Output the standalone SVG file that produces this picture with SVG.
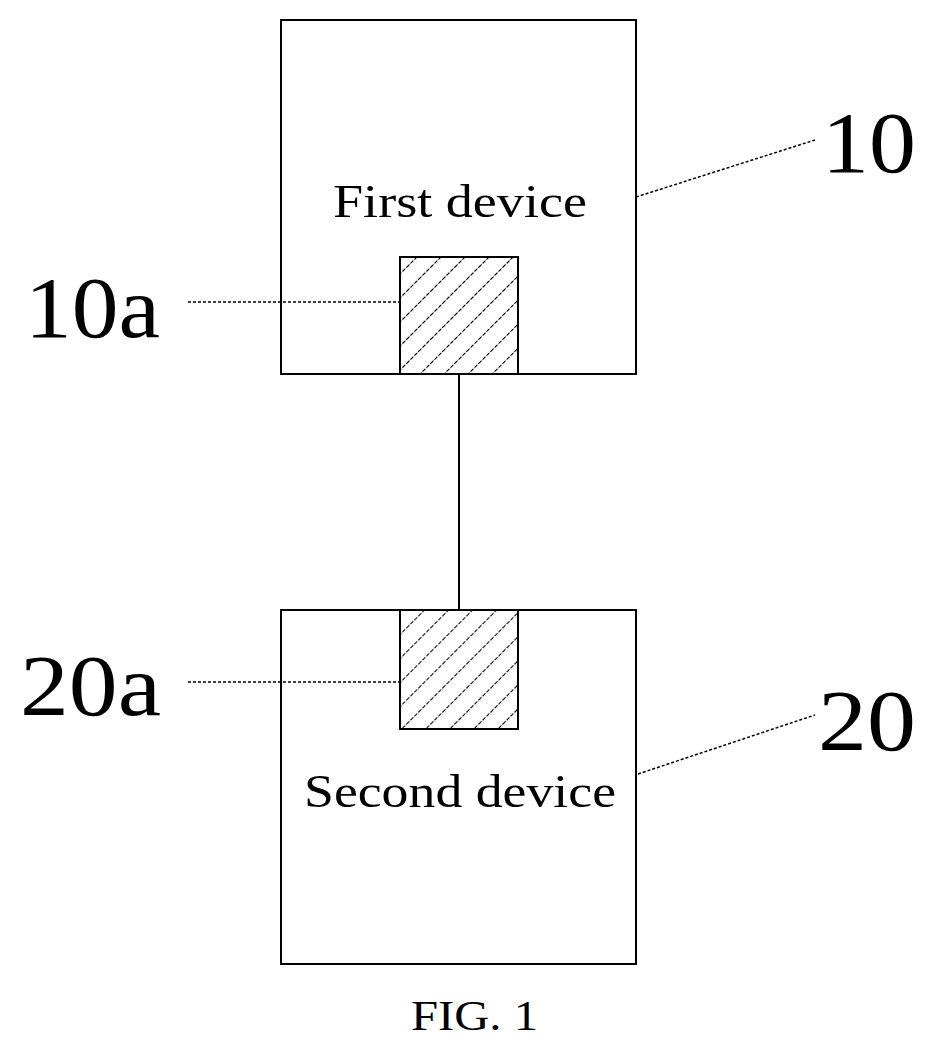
<svg xmlns="http://www.w3.org/2000/svg" width="935" height="1051" viewBox="0 0 935 1051">
<style>
.box{fill:#fff;stroke:#000;stroke-width:2}
.hb{fill:url(#hatch);stroke:#000;stroke-width:2}
.lead{stroke:#000;stroke-width:1.5;stroke-dasharray:3,2;fill:none}
.t{font-family:"Liberation Serif",serif;fill:#000}
</style>
<defs>
<pattern id="hatch" patternUnits="userSpaceOnUse" width="17" height="17" patternTransform="rotate(45)">
<rect width="17" height="17" fill="#fff"/>
<line x1="0" y1="0" x2="0" y2="17" stroke="#000" stroke-width="2.2" stroke-dasharray="4,1.5"/>
</pattern>
</defs>
<rect width="935" height="1051" fill="#fff"/>
<g id="node-10">
<rect class="box" x="281" y="20" width="355" height="354"/>
<text class="t" x="333" y="217" font-size="46" textLength="254" lengthAdjust="spacingAndGlyphs">First device</text>
</g>
<g id="node-10a"><rect class="hb" x="400" y="257" width="118" height="117"/></g>
<g id="node-20">
<rect class="box" x="281" y="610" width="355" height="354"/>
<text class="t" x="304" y="807" font-size="46" textLength="312" lengthAdjust="spacingAndGlyphs">Second device</text>
</g>
<g id="node-20a"><rect class="hb" x="400" y="610" width="118" height="119"/></g>
<g id="connectors">
<line x1="459" y1="374" x2="459" y2="610" stroke="#000" stroke-width="2"/>
<line class="lead" x1="636" y1="197" x2="815" y2="140"/>
<line class="lead" x1="188" y1="302" x2="399" y2="302"/>
<line class="lead" x1="188" y1="682" x2="399" y2="682"/>
<line class="lead" x1="638" y1="774" x2="815" y2="715"/>
</g>
<text class="t" x="822" y="172" font-size="86" textLength="94" lengthAdjust="spacingAndGlyphs">10</text>
<text class="t" x="25" y="337" font-size="86" textLength="135" lengthAdjust="spacingAndGlyphs">10a</text>
<text class="t" x="20" y="715" font-size="86" textLength="141" lengthAdjust="spacingAndGlyphs">20a</text>
<text class="t" x="818" y="750" font-size="86" textLength="98" lengthAdjust="spacingAndGlyphs">20</text>
<text class="t" x="411" y="1030" font-size="42" textLength="127" lengthAdjust="spacingAndGlyphs">FIG. 1</text>
</svg>
